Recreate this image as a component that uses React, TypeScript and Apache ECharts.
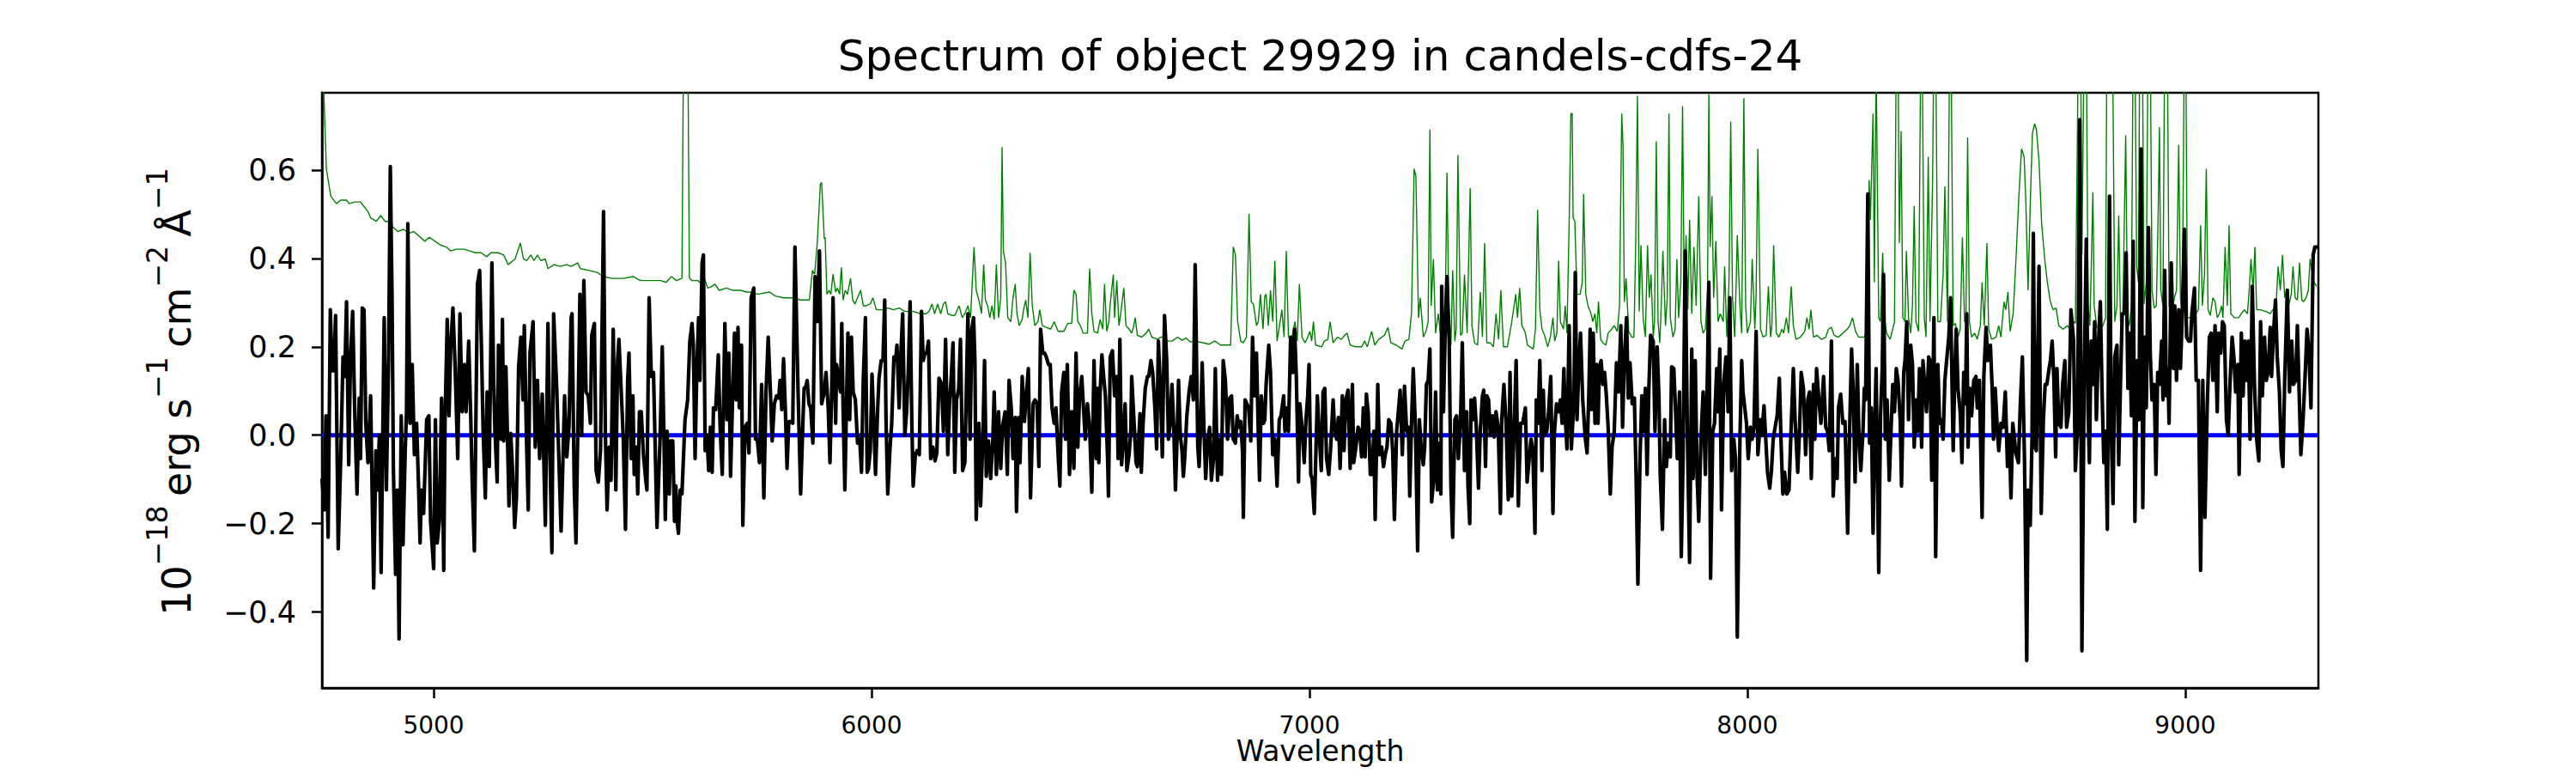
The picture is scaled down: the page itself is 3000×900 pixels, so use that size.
import React, { useEffect, useRef } from "react";
import * as echarts from "echarts";

const TITLE = "Spectrum of object 29929 in candels-cdfs-24";
const X_LABEL = "Wavelength";
const X_MIN = 4745;
const X_MAX = 9304;
const Y_MIN = -0.572;
const Y_MAX = 0.775;
const X_TICKS = [5000, 6000, 7000, 8000, 9000];
const Y_TICKS = [-0.4, -0.2, 0, 0.2, 0.4, 0.6];
const ZERO_LINE: [number, number][] = [[4745, 0], [9304, 0]];

// observed flux (black)
const FLUX: [number, number][] = [
[4745,-0.098],[4750,-0.169],[4754,0.044],[4759,-0.231],[4764,0.284],[4768,0.146],[4772,0.146],[4776,0.271],[4782,-0.257],[4788,-0.044],[4793,0.177],[4797,0.133],[4801,0.302],[4806,-0.067],[4810,0.169],[4815,0.280],[4820,0.044],[4825,-0.133],[4830,0.084],[4833,-0.053],[4837,0.288],[4841,0.284],[4845,0.027],[4850,-0.062],[4856,0.089],[4863,-0.346],[4868,-0.035],[4872,-0.124],[4876,0.000],[4880,-0.311],[4887,0.266],[4892,-0.124],[4897,0.169],[4901,0.608],[4905,0.311],[4908,-0.075],[4913,-0.315],[4917,-0.124],[4921,-0.461],[4926,0.044],[4930,-0.248],[4935,-0.035],[4938,0.053],[4941,0.479],[4946,0.027],[4951,0.160],[4956,-0.044],[4961,0.027],[4965,-0.098],[4969,-0.244],[4972,-0.124],[4977,-0.177],[4984,0.035],[4989,0.044],[4993,-0.195],[5000,-0.302],[5004,0.035],[5008,-0.244],[5013,-0.195],[5018,0.084],[5023,-0.306],[5026,0.035],[5031,0.262],[5035,0.044],[5039,0.204],[5044,0.288],[5049,0.155],[5055,-0.053],[5060,0.275],[5065,0.053],[5070,0.160],[5074,0.053],[5080,0.213],[5085,0.027],[5088,-0.106],[5093,-0.262],[5100,0.342],[5105,0.373],[5109,0.204],[5113,0.009],[5118,-0.142],[5122,0.098],[5127,-0.071],[5133,0.390],[5137,0.124],[5140,0.009],[5145,-0.106],[5148,0.204],[5154,-0.009],[5157,0.262],[5160,-0.013],[5165,0.155],[5172,-0.160],[5176,0.004],[5180,-0.075],[5185,-0.209],[5189,-0.142],[5194,0.155],[5199,0.222],[5204,0.080],[5207,0.248],[5212,-0.009],[5216,-0.169],[5220,0.186],[5227,0.257],[5232,-0.027],[5237,0.124],[5242,-0.053],[5248,0.093],[5255,-0.204],[5261,0.253],[5266,-0.062],[5270,-0.266],[5274,0.275],[5281,0.106],[5291,-0.217],[5299,0.089],[5304,-0.049],[5309,0.018],[5314,0.266],
[5316,0.275],[5321,-0.115],[5325,-0.244],[5330,0.062],[5334,0.319],[5338,0.000],[5343,0.350],[5348,0.098],[5353,0.089],[5358,0.027],[5361,0.226],[5367,0.253],[5371,-0.080],[5376,-0.106],[5381,-0.035],[5388,0.506],[5392,0.009],[5396,-0.169],[5401,-0.027],[5405,-0.102],[5410,0.240],[5416,-0.124],[5420,0.169],[5423,0.217],[5430,0.062],[5433,-0.009],[5438,-0.213],[5443,0.124],[5446,0.186],[5451,-0.053],[5455,0.089],[5458,-0.089],[5463,-0.027],[5466,-0.133],[5470,0.053],[5474,0.053],[5479,-0.044],[5484,-0.098],[5487,-0.124],[5492,0.311],[5497,0.133],[5502,0.142],[5510,-0.209],[5517,-0.009],[5522,0.200],[5526,-0.009],[5529,-0.191],[5533,0.009],[5538,-0.133],[5541,-0.013],[5546,-0.013],[5550,-0.195],[5553,-0.115],[5556,-0.195],[5559,-0.222],[5563,-0.124],[5567,-0.133],[5574,0.035],[5580,0.080],[5585,0.213],[5590,0.253],[5593,0.204],[5597,-0.053],[5601,0.151],[5605,0.266],[5608,0.124],[5613,0.390],[5616,0.408],[5620,-0.035],[5624,0.000],[5628,-0.080],[5632,0.018],[5636,-0.084],[5639,0.062],[5644,0.058],[5650,0.182],[5654,0.022],[5659,-0.089],[5665,0.253],[5670,0.035],[5674,0.186],[5678,-0.093],[5683,0.098],[5687,0.231],[5691,0.080],[5695,0.244],[5698,0.062],[5703,0.204],[5706,-0.204],[5711,0.018],[5716,0.027],[5720,-0.040],[5725,0.311],[5731,0.333],[5735,-0.009],[5739,-0.009],[5744,-0.062],[5749,0.115],[5754,-0.142],[5759,0.098],[5764,0.222],[5769,0.098],[5773,-0.013],[5778,0.071],[5783,0.089],[5788,0.084],[5791,0.124],[5795,0.058],[5799,0.173],[5803,0.062],[5807,-0.075],[5811,0.031],[5816,0.031],[5820,0.027],[5825,0.426],[5832,0.106],[5838,-0.133],[5844,0.053],[5846,0.106],[5850,0.111],[5853,0.124],[5857,0.071],[5861,0.062],[5866,-0.018],[5871,0.359],[5876,0.257],[5881,0.417],
[5886,0.071],[5892,0.098],[5896,0.142],[5901,0.062],[5905,-0.062],[5909,0.106],[5912,0.311],[5918,0.027],[5920,0.160],[5924,0.133],[5929,0.098],[5932,0.253],[5935,0.062],[5939,-0.124],[5944,0.133],[5946,0.231],[5950,0.035],[5954,0.222],[5958,0.098],[5963,0.080],[5968,-0.018],[5973,-0.009],[5977,-0.084],[5981,0.124],[5986,0.266],[5990,-0.084],[5993,-0.075],[5997,-0.035],[6001,0.138],[6005,0.035],[6009,-0.089],[6014,0.062],[6017,0.129],[6022,0.169],[6026,0.169],[6030,0.306],[6033,0.035],[6037,-0.133],[6042,-0.031],[6046,0.027],[6051,0.177],[6055,0.169],[6058,0.204],[6063,0.062],[6067,0.186],[6071,0.275],[6076,0.000],[6080,0.053],[6084,0.151],[6088,0.302],[6092,0.027],[6095,-0.115],[6100,-0.044],[6104,-0.035],[6109,-0.044],[6114,0.280],[6118,0.169],[6122,0.186],[6126,0.186],[6130,0.213],[6135,-0.053],[6140,-0.027],[6145,-0.058],[6149,-0.040],[6154,0.129],[6160,0.115],[6164,0.009],[6169,0.217],[6174,-0.044],[6178,0.071],[6182,0.133],[6186,0.209],[6190,-0.084],[6194,0.080],[6199,0.106],[6203,0.217],[6208,-0.080],[6213,-0.062],[6220,0.275],[6225,-0.009],[6229,0.240],[6233,0.266],[6236,0.169],[6239,-0.191],[6245,0.027],[6249,-0.160],[6254,-0.013],[6258,0.169],[6262,-0.093],[6267,-0.013],[6272,-0.098],[6277,-0.009],[6280,0.098],[6285,-0.089],[6290,0.053],[6295,-0.075],[6299,0.018],[6305,0.053],[6310,-0.089],[6314,0.124],[6319,0.062],[6323,-0.053],[6328,0.040],[6331,-0.173],[6336,0.040],[6339,-0.062],[6344,0.133],[6349,0.031],[6354,0.098],[6358,0.151],[6363,-0.142],[6369,0.071],[6373,0.080],[6378,0.071],[6382,-0.071],[6386,0.240],[6391,0.186],[6395,0.186],[6399,0.177],[6404,0.160],[6408,0.160],[6412,0.062],[6417,0.027],[6421,0.062],[6426,-0.044],[6430,-0.115],[6434,0.098],[6439,0.142],[6443,-0.009],[6447,0.160],[6452,-0.089],[6456,0.027],
[6457,0.053],[6462,-0.075],[6467,0.186],[6471,-0.027],[6475,0.089],[6480,0.133],[6484,0.062],[6488,-0.009],[6493,0.071],[6498,0.018],[6503,-0.129],[6508,0.169],[6513,-0.053],[6516,0.106],[6519,-0.062],[6522,0.098],[6526,0.182],[6530,0.133],[6534,0.089],[6539,-0.053],[6541,-0.138],[6545,0.177],[6550,0.191],[6555,0.089],[6560,0.133],[6563,-0.053],[6567,0.217],[6571,-0.067],[6575,-0.009],[6579,0.071],[6583,-0.080],[6588,-0.044],[6592,0.009],[6594,0.133],[6600,0.018],[6604,-0.062],[6607,-0.071],[6613,0.049],[6616,-0.084],[6620,0.027],[6625,0.106],[6630,0.133],[6633,0.133],[6638,0.169],[6642,0.142],[6647,0.062],[6651,-0.031],[6655,0.213],[6660,0.098],[6664,-0.049],[6669,0.271],[6674,0.169],[6678,-0.009],[6682,0.027],[6686,0.115],[6690,0.018],[6694,-0.124],[6697,-0.027],[6701,0.124],[6705,0.000],[6709,-0.035],[6712,-0.093],[6715,-0.053],[6720,0.044],[6725,0.098],[6730,0.133],[6735,0.080],[6739,0.386],[6745,-0.027],[6748,-0.071],[6751,0.009],[6755,0.164],[6759,0.018],[6763,-0.098],[6767,-0.018],[6772,0.018],[6776,-0.102],[6781,-0.053],[6785,0.151],[6790,-0.102],[6795,-0.009],[6799,-0.089],[6803,0.169],[6808,0.124],[6813,-0.009],[6818,0.084],[6822,0.089],[6826,-0.009],[6831,-0.018],[6835,0.044],[6839,0.018],[6843,0.031],[6847,-0.035],[6849,-0.186],[6853,0.080],[6857,0.071],[6861,0.062],[6866,-0.013],[6870,0.222],[6875,0.089],[6879,0.186],[6883,0.013],[6886,-0.102],[6890,0.089],[6895,0.027],[6898,0.035],[6901,0.115],[6907,0.204],[6911,0.142],[6916,-0.044],[6921,-0.009],[6926,-0.115],[6931,0.035],[6935,0.044],[6941,0.089],[6944,0.009],[6949,0.062],[6952,0.009],[6957,0.222],[6962,0.142],[6966,0.240],[6970,0.133],[6975,-0.106],[6978,0.071],[6983,0.018],[6988,-0.062],[6992,0.035],[6996,0.089],[6999,0.160],[7003,-0.089],[7006,-0.098],[7011,-0.177],[7015,-0.027],[7018,0.089],[7022,0.009],[7027,-0.080],
[7031,0.098],[7035,0.106],[7039,-0.053],[7044,-0.089],[7048,-0.035],[7054,0.080],[7057,0.018],[7062,-0.009],[7066,0.040],[7070,-0.075],[7075,0.089],[7079,-0.035],[7083,0.080],[7088,0.102],[7093,-0.075],[7098,0.115],[7101,-0.062],[7106,-0.027],[7111,0.018],[7115,0.009],[7119,-0.049],[7123,0.062],[7127,-0.049],[7130,0.093],[7134,0.053],[7139,-0.089],[7143,-0.089],[7147,0.009],[7150,-0.191],[7156,0.115],[7160,-0.044],[7165,-0.027],[7169,-0.071],[7173,-0.044],[7177,-0.027],[7181,0.035],[7186,0.027],[7190,-0.035],[7194,-0.191],[7199,0.009],[7203,0.053],[7207,0.102],[7212,-0.044],[7217,0.111],[7222,0.009],[7226,0.018],[7229,-0.138],[7233,0.027],[7237,0.151],[7242,0.018],[7247,-0.262],[7251,0.035],[7255,-0.027],[7260,-0.067],[7263,-0.027],[7267,0.115],[7271,0.124],[7275,0.195],[7279,-0.151],[7284,-0.098],[7288,0.098],[7292,-0.124],[7296,-0.018],[7300,-0.133],[7302,0.337],[7306,0.053],[7310,0.240],[7314,0.359],[7319,0.213],[7323,-0.115],[7327,-0.231],[7332,0.035],[7336,0.044],[7340,-0.053],[7345,0.035],[7349,0.209],[7354,-0.080],[7359,0.053],[7362,-0.115],[7366,-0.200],[7369,0.080],[7373,0.035],[7377,0.084],[7381,0.018],[7386,-0.120],[7390,0.009],[7395,0.089],[7398,0.102],[7402,-0.071],[7405,0.089],[7409,0.080],[7413,0.000],[7418,0.044],[7422,-0.004],[7426,0.053],[7431,0.018],[7436,-0.177],[7439,0.035],[7444,0.115],[7449,0.027],[7454,-0.146],[7458,0.142],[7462,-0.138],[7467,0.000],[7472,0.169],[7477,-0.160],[7482,0.027],[7487,0.027],[7493,0.062],[7497,-0.106],[7501,-0.062],[7506,-0.009],[7510,-0.035],[7515,-0.222],[7518,0.080],[7522,0.027],[7526,0.169],[7531,-0.080],[7534,0.102],[7537,0.000],[7542,0.009],[7546,0.053],[7551,0.133],[7556,-0.177],[7559,0.000],[7564,0.071],[7569,0.053],[7573,0.080],[7577,0.027],[7581,0.151],[7584,0.044],[7588,-0.031],[7593,0.248],[7598,-0.031],
[7604,0.080],[7607,0.368],[7611,0.035],[7615,0.151],[7619,0.231],[7624,0.080],[7630,-0.009],[7634,-0.040],[7638,0.098],[7641,0.240],[7644,0.058],[7648,0.231],[7652,0.027],[7656,0.160],[7659,0.027],[7662,0.151],[7666,0.169],[7670,0.115],[7674,0.142],[7678,0.089],[7682,0.018],[7687,-0.133],[7691,-0.027],[7696,0.009],[7701,0.164],[7706,0.098],[7711,0.248],[7715,0.018],[7719,0.169],[7724,0.266],[7728,0.084],[7732,0.164],[7737,0.071],[7742,0.084],[7746,-0.098],[7750,-0.337],[7755,-0.044],[7759,0.089],[7763,0.009],[7767,0.106],[7771,-0.089],[7775,0.106],[7779,0.226],[7785,0.213],[7789,0.009],[7794,0.200],[7798,0.089],[7801,-0.089],[7806,-0.213],[7811,0.035],[7815,-0.071],[7819,-0.018],[7824,-0.049],[7827,0.155],[7832,0.151],[7836,0.053],[7840,-0.053],[7845,0.098],[7849,-0.275],[7853,-0.062],[7858,0.417],[7863,0.000],[7868,-0.288],[7873,0.195],[7876,-0.098],[7881,0.169],[7885,-0.089],[7889,-0.195],[7894,-0.009],[7899,0.098],[7904,-0.089],[7909,0.151],[7912,0.346],[7916,-0.324],[7921,0.009],[7925,0.027],[7930,0.151],[7933,0.053],[7937,0.195],[7941,-0.169],[7946,0.115],[7951,0.177],[7956,0.053],[7960,0.311],[7964,-0.080],[7969,-0.009],[7973,-0.053],[7977,-0.457],[7983,-0.009],[7987,0.169],[7990,0.098],[7994,0.062],[7998,0.027],[8002,-0.053],[8007,0.018],[8011,-0.009],[8015,0.018],[8020,0.235],[8024,-0.044],[8030,0.035],[8033,0.000],[8038,0.067],[8041,0.009],[8046,-0.084],[8051,-0.120],[8055,-0.080],[8059,-0.009],[8064,0.022],[8068,0.044],[8073,0.129],[8077,-0.018],[8081,-0.133],[8085,-0.084],[8090,-0.133],[8095,-0.124],[8100,0.018],[8105,0.151],[8109,0.035],[8115,-0.084],[8119,0.009],[8123,0.142],[8128,0.106],[8133,-0.044],[8138,0.080],[8142,0.098],[8146,-0.098],[8151,0.115],[8154,-0.009],[8158,0.151],[8164,0.071],[8168,0.027],
[8174,0.133],[8179,0.018],[8183,0.009],[8187,-0.035],[8192,0.213],[8196,-0.138],[8200,-0.053],[8205,-0.098],[8208,0.062],[8213,0.093],[8218,0.027],[8223,0.031],[8229,-0.222],[8234,0.035],[8238,0.195],[8242,0.089],[8246,-0.106],[8251,0.160],[8255,-0.009],[8259,-0.080],[8264,0.009],[8267,0.106],[8270,0.080],[8275,0.546],[8279,-0.018],[8283,0.062],[8287,-0.222],[8291,0.027],[8294,0.151],[8300,-0.311],[8304,0.044],[8308,0.151],[8311,0.364],[8315,-0.009],[8319,0.080],[8324,-0.102],[8328,0.009],[8332,0.115],[8336,0.053],[8340,0.151],[8344,0.124],[8349,0.035],[8352,-0.115],[8357,0.142],[8360,0.169],[8364,0.257],[8368,0.035],[8373,0.204],[8377,0.160],[8381,-0.027],[8385,0.080],[8389,0.009],[8393,0.151],[8398,-0.027],[8401,0.169],[8406,0.098],[8409,0.053],[8414,0.177],[8417,0.169],[8421,-0.102],[8426,0.266],[8430,-0.275],[8435,0.160],[8439,0.027],[8443,0.035],[8447,-0.009],[8451,0.124],[8455,0.169],[8460,0.222],[8464,0.311],[8470,-0.035],[8474,0.151],[8477,0.240],[8481,0.106],[8486,0.053],[8490,-0.062],[8494,0.142],[8498,0.071],[8501,0.275],[8504,-0.027],[8508,0.106],[8512,0.044],[8517,0.124],[8522,0.133],[8525,0.062],[8530,0.124],[8532,0.018],[8536,-0.186],[8540,0.133],[8545,0.244],[8549,0.169],[8555,0.204],[8559,0.106],[8562,-0.009],[8566,0.106],[8571,0.009],[8574,-0.035],[8579,0.027],[8584,0.018],[8589,0.098],[8594,-0.071],[8598,0.000],[8602,-0.142],[8606,0.027],[8610,-0.009],[8613,-0.040],[8619,-0.062],[8623,0.062],[8628,0.177],[8633,-0.062],[8638,-0.510],[8641,-0.124],[8646,-0.204],[8650,-0.009],[8653,0.457],[8657,-0.027],[8660,-0.035],[8666,0.382],[8671,-0.177],[8676,0.035],[8680,0.115],[8684,0.115],[8689,0.151],[8692,0.169],[8696,0.213],[8700,0.124],[8704,-0.049],[8707,0.151],[8711,0.027],[8716,0.018],[8720,0.115],[8725,0.169],[8729,0.018],[8734,0.053],[8739,0.284],
[8745,0.213],[8749,-0.080],[8754,0.018],[8759,0.714],[8764,-0.488],[8769,0.124],[8774,0.444],[8778,0.053],[8781,-0.062],[8785,0.213],[8789,0.115],[8793,0.257],[8797,0.035],[8802,0.213],[8806,0.302],[8810,0.098],[8814,-0.062],[8818,0.009],[8822,-0.213],[8827,0.541],[8831,0.009],[8835,-0.155],[8839,0.177],[8844,0.204],[8848,-0.067],[8852,0.115],[8856,0.275],[8861,0.275],[8865,0.413],[8869,0.106],[8873,0.231],[8877,0.044],[8881,0.439],[8885,-0.195],[8890,0.169],[8894,0.035],[8899,0.648],[8903,-0.164],[8907,0.222],[8911,0.062],[8916,0.470],[8920,0.186],[8924,0.080],[8929,0.115],[8933,-0.089],[8937,0.142],[8941,0.115],[8946,0.213],[8949,0.080],[8953,0.373],[8957,0.089],[8960,0.151],[8963,0.027],[8968,0.390],[8973,0.151],[8976,0.293],[8980,0.124],[8985,0.284],[8989,0.151],[8993,0.266],[8998,0.466],[9003,0.222],[9008,0.213],[9012,0.213],[9015,0.275],[9021,0.333],[9025,0.124],[9030,0.124],[9035,-0.306],[9040,0.124],[9045,-0.186],[9050,0.062],[9055,0.222],[9059,0.231],[9063,0.124],[9068,0.248],[9073,0.053],[9076,0.231],[9081,0.186],[9085,0.257],[9089,0.248],[9094,0.035],[9098,0.000],[9102,0.115],[9107,0.222],[9111,0.177],[9115,0.098],[9120,0.160],[9123,-0.089],[9128,0.231],[9132,0.089],[9136,0.213],[9140,0.124],[9144,0.213],[9148,-0.009],[9153,0.337],[9158,0.115],[9163,-0.009],[9168,-0.058],[9172,0.257],[9176,0.089],[9181,0.222],[9185,0.124],[9189,0.142],[9194,0.244],[9197,0.133],[9202,0.240],[9206,0.306],[9210,0.177],[9215,0.098],[9219,-0.035],[9223,-0.071],[9227,0.124],[9233,0.328],[9238,0.098],[9243,0.213],[9247,0.115],[9252,0.124],[9256,0.248],[9260,0.098],[9264,-0.044],[9269,0.035],[9274,0.142],[9278,0.240],[9282,0.195],[9287,0.062],[9292,0.408],[9296,0.426],[9302,0.426]
];

// model / noise curve (green); values above 0.775 run past the top of the frame
const MODEL: [number, number][] = [
[4745,0.95],[4749,0.78],[4755,0.603],[4765,0.541],[4778,0.524],[4788,0.532],[4801,0.532],[4807,0.524],[4820,0.528],[4833,0.528],[4840,0.519],[4850,0.506],[4856,0.492],[4869,0.484],[4879,0.497],[4889,0.484],[4899,0.484],[4908,0.470],[4918,0.461],[4931,0.466],[4944,0.457],[4954,0.461],[4964,0.453],[4980,0.439],[4990,0.448],[5003,0.439],[5016,0.430],[5029,0.426],[5039,0.417],[5052,0.421],[5069,0.421],[5082,0.417],[5095,0.413],[5108,0.413],[5121,0.404],[5131,0.413],[5147,0.413],[5160,0.408],[5170,0.386],[5186,0.399],[5198,0.435],[5205,0.399],[5212,0.395],[5222,0.408],[5229,0.395],[5237,0.408],[5245,0.395],[5255,0.399],[5261,0.377],[5275,0.386],[5288,0.382],[5304,0.386],[5314,0.382],
[5329,0.390],[5335,0.377],[5355,0.373],[5374,0.368],[5388,0.359],[5407,0.355],[5433,0.355],[5456,0.359],[5472,0.350],[5492,0.350],[5518,0.350],[5531,0.346],[5543,0.359],[5554,0.350],[5567,0.355],[5571,0.95],[5576,0.95],[5580,0.95],[5584,0.355],[5590,0.350],[5603,0.350],[5613,0.342],[5618,0.355],[5626,0.333],[5636,0.337],[5642,0.342],[5652,0.328],[5669,0.333],[5682,0.328],[5701,0.328],[5714,0.324],[5724,0.324],[5740,0.319],[5767,0.324],[5780,0.315],[5799,0.311],[5819,0.311],[5838,0.306],[5858,0.306],[5865,0.373],[5870,0.364],[5876,0.435],[5883,0.568],
[5886,0.572],[5892,0.444],[5894,0.448],[5898,0.319],[5903,0.328],[5907,0.319],[5912,0.364],[5918,0.324],[5922,0.333],[5927,0.319],[5931,0.380],[5935,0.306],[5940,0.328],[5945,0.319],[5952,0.355],[5957,0.306],[5962,0.297],[5968,0.311],[5975,0.328],[5981,0.293],[5988,0.293],[5997,0.297],[6003,0.311],[6011,0.284],[6024,0.284],[6037,0.288],[6050,0.284],[6063,0.288],[6076,0.280],[6095,0.280],[6112,0.275],[6125,0.275],[6131,0.280],[6138,0.297],[6144,0.275],[6151,0.297],[6158,0.275],[6164,0.297],[6169,0.302],[6174,0.275],[6184,0.271],[6190,0.271],[6200,0.293],[6207,0.266],[6213,0.275],[6220,0.293],[6226,0.266],[6234,0.426],[6239,0.328],[6246,0.302],[6251,0.275],[6256,0.386],[6260,0.306],[6265,0.293],[6270,0.266],[6275,0.293],[6280,0.262],[6285,0.386],[6290,0.266],[6295,0.311],[6298,0.652],[6301,0.417],[6306,0.390],[6311,0.266],[6318,0.257],[6323,0.311],[6328,0.342],[6332,0.275],[6337,0.248],[6344,0.262],[6347,0.284],[6352,0.306],[6357,0.266],[6362,0.413],[6367,0.293],[6373,0.248],[6380,0.257],[6384,0.284],[6390,0.248],[6399,0.244],[6409,0.240],[6417,0.257],[6426,0.235],[6439,0.235],[6448,0.253],[6457,0.253],
[6462,0.328],[6467,0.319],[6471,0.257],[6477,0.248],[6483,0.231],[6493,0.231],[6498,0.377],[6503,0.275],[6508,0.235],[6516,0.231],[6522,0.262],[6528,0.240],[6532,0.342],[6537,0.235],[6542,0.257],[6545,0.297],[6552,0.364],[6555,0.266],[6560,0.350],[6565,0.248],[6569,0.275],[6576,0.333],[6581,0.248],[6588,0.240],[6594,0.231],[6598,0.244],[6602,0.266],[6607,0.226],[6617,0.222],[6627,0.231],[6633,0.240],[6640,0.222],[6653,0.217],[6660,0.222],[6666,0.222],[6676,0.213],[6686,0.213],[6699,0.222],[6709,0.215],[6718,0.220],[6728,0.211],[6738,0.213],[6758,0.209],[6771,0.206],[6784,0.213],[6797,0.204],[6820,0.204],[6826,0.426],[6831,0.408],[6836,0.257],[6843,0.213],[6849,0.209],[6856,0.222],[6862,0.501],[6867,0.302],[6872,0.297],[6879,0.248],[6883,0.257],[6888,0.319],[6894,0.240],[6898,0.315],[6901,0.319],[6906,0.248],[6911,0.328],[6916,0.257],[6921,0.395],[6926,0.213],[6933,0.257],[6937,0.284],[6942,0.222],[6947,0.417],[6952,0.222],[6959,0.217],[6967,0.257],[6972,0.213],[6977,0.342],[6983,0.222],[6990,0.209],[6996,0.222],[7001,0.235],[7005,0.213],[7009,0.257],[7014,0.204],[7028,0.200],
[7034,0.213],[7042,0.217],[7047,0.257],[7054,0.209],[7064,0.222],[7073,0.217],[7080,0.226],[7086,0.231],[7093,0.204],[7106,0.200],[7119,0.200],[7126,0.213],[7132,0.200],[7142,0.235],[7149,0.204],[7158,0.217],[7171,0.226],[7179,0.244],[7186,0.209],[7198,0.204],[7211,0.195],[7218,0.213],[7227,0.217],[7233,0.275],[7239,0.603],[7243,0.586],[7249,0.266],[7253,0.311],[7260,0.222],[7266,0.235],[7271,0.257],[7275,0.692],[7278,0.293],[7283,0.399],[7288,0.231],[7294,0.275],[7299,0.231],[7310,0.275],[7314,0.594],[7318,0.293],[7323,0.204],[7327,0.373],[7332,0.213],[7335,0.240],[7339,0.634],[7345,0.226],[7349,0.231],[7354,0.364],[7360,0.231],[7367,0.559],[7371,0.248],[7377,0.209],[7384,0.204],[7390,0.324],[7395,0.222],[7400,0.435],[7405,0.209],[7413,0.209],[7420,0.200],[7426,0.275],[7432,0.217],[7437,0.328],[7443,0.200],[7452,0.200],[7462,0.257],[7471,0.319],[7475,0.266],[7480,0.333],[7485,0.248],[7492,0.235],[7498,0.204],[7511,0.195],[7516,0.240],[7521,0.510],[7526,0.284],[7531,0.240],[7537,0.226],[7544,0.200],[7550,0.222],[7556,0.266],[7560,0.213],[7565,0.231],[7569,0.395],[7573,0.257],[7580,0.240],[7584,0.293],[7588,0.231],[7593,0.479],[7597,0.728],
[7600,0.728],[7602,0.492],[7606,0.484],[7611,0.319],[7618,0.319],[7623,0.346],[7626,0.546],[7631,0.319],[7636,0.293],[7643,0.275],[7647,0.257],[7652,0.275],[7656,0.231],[7660,0.302],[7665,0.217],[7670,0.209],[7677,0.204],[7682,0.231],[7690,0.240],[7696,0.248],[7703,0.235],[7708,0.293],[7713,0.728],[7716,0.657],[7719,0.302],[7723,0.355],[7729,0.235],[7736,0.222],[7741,0.222],[7745,0.435],[7749,0.768],[7753,0.280],[7757,0.430],[7762,0.266],[7767,0.222],[7772,0.430],[7776,0.311],[7780,0.364],[7785,0.222],[7788,0.257],[7792,0.665],[7796,0.257],[7800,0.209],[7804,0.311],[7807,0.417],[7813,0.248],[7817,0.311],[7821,0.728],[7824,0.266],[7830,0.222],[7835,0.240],[7839,0.399],[7843,0.266],[7848,0.346],[7852,0.745],[7856,0.293],[7860,0.453],[7864,0.284],[7868,0.488],[7873,0.275],[7878,0.426],[7883,0.293],[7886,0.417],[7889,0.541],[7894,0.257],[7899,0.231],[7904,0.240],[7909,0.328],[7912,0.772],[7915,0.426],[7919,0.541],[7923,0.311],[7928,0.439],[7933,0.257],[7938,0.275],[7945,0.257],[7948,0.382],[7953,0.222],[7958,0.346],[7962,0.710],[7966,0.311],[7971,0.222],[7974,0.328],[7977,0.453],[7983,0.293],[7987,0.231],[7992,0.763],[7996,0.293],[8000,0.231],[8007,0.257],[8011,0.399],[8017,0.240],[8020,0.319],[8024,0.648],[8030,0.240],[8036,0.222],[8043,0.226],[8048,0.337],[8053,0.222],[8056,0.248],[8060,0.430],[8066,0.231],[8072,0.222],[8079,0.240],[8083,0.231],[8089,0.266],[8094,0.231],[8100,0.337],[8105,0.248],[8111,0.217],[8121,0.222],[8131,0.235],[8136,0.266],[8141,0.240],[8145,0.284],[8151,0.222],[8159,0.226],[8169,0.217],
[8179,0.222],[8185,0.240],[8192,0.244],[8198,0.226],[8208,0.222],[8218,0.231],[8228,0.240],[8234,0.248],[8240,0.266],[8247,0.235],[8254,0.222],[8267,0.222],[8274,0.240],[8278,0.577],[8281,0.488],[8287,0.728],[8290,0.346],[8294,0.85],[8300,0.266],[8304,0.257],[8309,0.413],[8313,0.266],[8318,0.231],[8326,0.217],[8336,0.257],[8340,0.9],[8344,0.9],[8347,0.435],[8351,0.688],[8355,0.266],[8360,0.257],[8363,0.417],[8368,0.266],[8373,0.231],[8377,0.293],[8381,0.519],[8385,0.257],[8391,0.235],[8396,0.9],[8399,0.9],[8404,0.266],[8408,0.222],[8413,0.630],[8417,0.257],[8423,0.577],[8426,0.9],[8430,0.9],[8435,0.257],[8441,0.257],[8447,0.364],[8451,0.563],[8457,0.257],[8462,0.9],[8465,0.9],[8470,0.248],[8475,0.253],[8481,0.222],[8486,0.240],[8491,0.448],[8496,0.257],[8499,0.257],[8503,0.674],[8507,0.257],[8512,0.222],[8519,0.231],[8525,0.217],[8532,0.248],[8536,0.346],[8541,0.248],[8547,0.435],[8551,0.240],[8558,0.217],[8568,0.222],[8574,0.248],[8579,0.222],[8586,0.302],[8590,0.284],[8595,0.324],[8600,0.235],[8607,0.275],[8613,0.390],[8620,0.541],[8626,0.648],[8632,0.630],[8636,0.524],[8641,0.328],[8646,0.524],[8651,0.683],[8656,0.705],[8660,0.692],[8666,0.621],[8672,0.479],[8679,0.399],[8685,0.346],[8692,0.302],[8698,0.284],[8705,0.288],[8711,0.248],[8721,0.240],[8731,0.248],[8740,0.235],
[8745,0.257],[8749,0.253],[8756,0.9],[8761,0.9],[8764,0.408],[8769,0.9],[8774,0.9],[8778,0.293],[8782,0.248],[8785,0.364],[8789,0.550],[8792,0.293],[8798,0.244],[8805,0.240],[8812,0.248],[8818,0.266],[8821,0.9],[8826,0.9],[8830,0.9],[8834,0.9],[8839,0.257],[8844,0.293],[8848,0.497],[8852,0.257],[8857,0.257],[8864,0.679],[8868,0.266],[8872,0.248],[8877,0.293],[8881,0.9],[8885,0.9],[8889,0.382],[8893,0.346],[8896,0.9],[8902,0.9],[8906,0.297],[8911,0.346],[8915,0.9],[8920,0.9],[8924,0.328],[8929,0.288],[8934,0.293],[8938,0.497],[8941,0.697],[8944,0.328],[8949,0.293],[8953,0.9],[8959,0.9],[8963,0.293],[8968,0.266],[8975,0.311],[8980,0.328],[8985,0.657],[8989,0.311],[8993,0.266],[8998,0.9],[9001,0.9],[9005,0.266],[9011,0.266],[9017,0.257],[9024,0.275],[9030,0.284],[9035,0.475],[9039,0.293],[9044,0.364],[9048,0.603],[9052,0.284],[9057,0.271],[9063,0.311],[9068,0.302],[9073,0.266],[9078,0.275],[9083,0.293],[9086,0.266],[9091,0.426],[9096,0.293],[9100,0.475],[9104,0.275],[9112,0.266],[9122,0.266],[9128,0.275],[9135,0.284],[9142,0.275],[9146,0.328],[9150,0.399],[9155,0.328],[9159,0.426],[9163,0.284],[9171,0.284],[9184,0.280],[9194,0.275],[9200,0.284],[9207,0.288],[9212,0.382],[9217,0.328],[9222,0.408],[9227,0.311],[9231,0.328],[9236,0.293],[9242,0.319],[9246,0.382],[9251,0.311],[9256,0.306],[9261,0.390],[9266,0.306],[9270,0.302],[9276,0.311],[9281,0.328],[9285,0.399],[9289,0.373],[9294,0.346],[9300,0.337]
];

const FONT = "DejaVu Sans";

function yTickText(v: number): string {
  const r = Math.round(v * 10) / 10;
  if (r < 0) return "\u2212" + Math.abs(r).toFixed(1);
  return r.toFixed(1);
}

export default function App() {
  const ref = useRef<HTMLDivElement>(null);

  useEffect(() => {
    if (!ref.current) return;
    const chart = echarts.init(ref.current, undefined, { renderer: "svg" });
    const option: any = {
      animation: false,
      backgroundColor: "#ffffff",
      grid: {
        left: 375,
        right: 300,
        top: 108,
        bottom: 99,
        show: true,
        borderColor: "#000000",
        borderWidth: 2.5,
        backgroundColor: "transparent",
        containLabel: false,
      },
      xAxis: {
        type: "value",
        min: X_MIN,
        max: X_MAX,
        axisLine: { show: true, onZero: false, lineStyle: { color: "#000", width: 2.5 } },
        axisTick: {
          show: true,
          length: 12,
          inside: false,
          customValues: X_TICKS,
          lineStyle: { color: "#000", width: 2.5 },
        },
        axisLabel: {
          show: true,
          customValues: X_TICKS,
          margin: 29,
          fontSize: 28,
          fontFamily: FONT,
          color: "#000",
          formatter: (v: number) => String(Math.round(v)),
        },
        splitLine: { show: false },
      },
      yAxis: {
        type: "value",
        min: Y_MIN,
        max: Y_MAX,
        axisLine: { show: true, onZero: false, lineStyle: { color: "#000", width: 2.5 } },
        axisTick: {
          show: true,
          length: 12,
          inside: false,
          customValues: Y_TICKS,
          lineStyle: { color: "#000", width: 2.5 },
        },
        axisLabel: {
          show: true,
          customValues: Y_TICKS,
          margin: 30,
          fontSize: 35,
          fontFamily: FONT,
          color: "#000",
          formatter: (v: number) => yTickText(v),
        },
        splitLine: { show: false },
      },
      series: [
        {
          name: "model",
          type: "line",
          data: MODEL,
          showSymbol: false,
          symbol: "none",
          clip: true,
          lineStyle: { color: "#008000", width: 1.4 },
          z: 2,
        },
        {
          name: "zero",
          type: "line",
          data: ZERO_LINE,
          showSymbol: false,
          symbol: "none",
          clip: true,
          lineStyle: { color: "#0000ff", width: 5 },
          z: 3,
        },
        {
          name: "flux",
          type: "line",
          data: FLUX,
          showSymbol: false,
          symbol: "none",
          clip: true,
          lineStyle: { color: "#000000", width: 4.2, join: "round" },
          z: 4,
        },
      ],
      graphic: [
        {
          type: "text",
          x: 1537.5,
          y: 65,
          style: {
            text: TITLE,
            fontSize: 50,
            fontFamily: FONT,
            fill: "#000",
            align: "center",
            verticalAlign: "middle",
            textAlign: "center",
            textVerticalAlign: "middle",
          },
        },
        {
          type: "text",
          x: 1537.5,
          y: 874,
          style: {
            text: X_LABEL,
            fontSize: 33,
            fontFamily: FONT,
            fill: "#000",
            align: "center",
            verticalAlign: "middle",
            textAlign: "center",
            textVerticalAlign: "middle",
          },
        },
        {
          type: "text",
          x: 198,
          y: 456,
          rotation: Math.PI / 2,
          style: {
            text: "{b|10}{s|\u221218 }{b|erg s}{s|\u22121 }{b|cm}{s|\u22122 }{b|\u00c5}{s|\u22121}",
            fill: "#000",
            align: "center",
            verticalAlign: "middle",
            textAlign: "center",
            textVerticalAlign: "middle",
            rich: {
              b: { fontSize: 46, fontFamily: FONT, lineHeight: 62, verticalAlign: "bottom", fill: "#000" },
              s: { fontSize: 33, fontFamily: FONT, lineHeight: 33, verticalAlign: "top", fill: "#000" },
            },
          },
        },
      ],
    };
    chart.setOption(option);
    return () => {
      chart.dispose();
    };
  }, []);

  return (
    <div
      ref={ref}
      style={{ position: "absolute", left: 0, top: 0, width: 3000, height: 900 }}
    />
  );
}
